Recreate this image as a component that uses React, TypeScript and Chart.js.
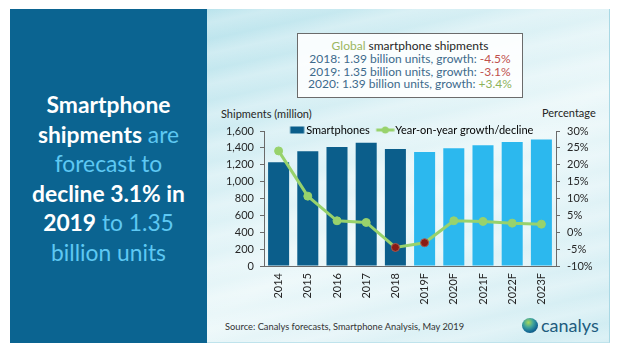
import React, { useEffect, useRef } from 'react';
import { Chart, registerables } from 'chart.js';

Chart.register(...registerables);

const categories = ['2014', '2015', '2016', '2017', '2018', '2019F', '2020F', '2021F', '2022F', '2023F'];
const shipments = [1230, 1360, 1410, 1460, 1388, 1350, 1395, 1430, 1470, 1500];
const growth = [24.1, 10.7, 3.4, 2.9, -4.5, -3.1, 3.4, 3.2, 2.7, 2.4];
const isForecast = [false, false, false, false, false, true, true, true, true, true];
const isDecline = [false, false, false, false, true, true, false, false, false, false];
const seriesNames = ['Smartphones', 'Year-on-year growth/decline'];
const headline = ['2018: 1.39 billion units, growth: ', '2019: 1.35 billion units, growth: ', '2020: 1.39 billion units, growth: '];
const headlineGrowth = ['-4.5%', '-3.1%', '+3.4%'];

const FONT = 'Lato, "Noto Sans", sans-serif';
const DARK_BAR = '#0B5E8B';
const LIGHT_BAR = '#2CB8EE';
const LINE_GREEN = '#98D26C';
const DECLINE_RED = '#8A1A14';
const TEXT = '#262626';
const AXIS = '#6a6a6a';

function legendIcon(kind: 'bar' | 'line'): HTMLCanvasElement {
  const c = document.createElement('canvas');
  c.width = 24;
  c.height = 8;
  const ctx = c.getContext('2d')!;
  if (kind === 'bar') {
    ctx.fillStyle = DARK_BAR;
    ctx.fillRect(8.5, 0.5, 14, 7);
  } else {
    ctx.strokeStyle = LINE_GREEN;
    ctx.lineWidth = 3;
    ctx.beginPath();
    ctx.moveTo(5.5, 4);
    ctx.lineTo(23.5, 4);
    ctx.stroke();
    ctx.fillStyle = LINE_GREEN;
    ctx.beginPath();
    ctx.arc(14.5, 4, 3.5, 0, Math.PI * 2);
    ctx.fill();
  }
  return c;
}

// move the library's legend down so that it sits on the top edge of the plot, as in the original
const legendNudge = {
  id: 'legendNudge',
  afterLayout(chart: any) {
    const lg = chart.legend;
    if (lg) {
      lg.top += 14.5;
      lg.bottom += 14.5;
    }
  },
};

function ChartCanvas() {
  const ref = useRef<HTMLCanvasElement | null>(null);
  useEffect(() => {
    if (!ref.current) return;
    const barIcon = legendIcon('bar');
    const lineIcon = legendIcon('line');
    const chart = new Chart(ref.current, {
      type: 'bar',
      data: {
        labels: categories,
        datasets: [
          {
            type: 'bar',
            label: seriesNames[0],
            data: shipments,
            backgroundColor: isForecast.map((f) => (f ? LIGHT_BAR : DARK_BAR)),
            yAxisID: 'y',
            order: 2,
            barPercentage: 0.72,
            categoryPercentage: 1,
          },
          {
            type: 'line',
            label: seriesNames[1],
            data: growth,
            borderColor: LINE_GREEN,
            backgroundColor: LINE_GREEN,
            borderWidth: 3,
            tension: 0,
            pointRadius: 4,
            pointBorderWidth: 1,
            pointBackgroundColor: isDecline.map((d) => (d ? DECLINE_RED : LINE_GREEN)),
            pointBorderColor: isDecline.map((d) => (d ? '#a85a50' : LINE_GREEN)),
            yAxisID: 'y1',
            order: 1,
          },
        ],
      },
      options: {
        animation: false,
        responsive: false,
        maintainAspectRatio: false,
        layout: { padding: { top: 9, left: 0, right: 0, bottom: 0 } },
        plugins: {
          tooltip: { enabled: false },
          legend: {
            position: 'top',
            align: 'center',
            fullSize: false,
            labels: {
              usePointStyle: true,
              pointStyleWidth: 14,
              boxHeight: 7,
              padding: 6,
              color: TEXT,
              font: { family: FONT, size: 11 },
              generateLabels: () => [
                { text: seriesNames[0], pointStyle: barIcon, fillStyle: DARK_BAR, strokeStyle: DARK_BAR, lineWidth: 0, hidden: false, datasetIndex: 0 },
                { text: seriesNames[1], pointStyle: lineIcon, fillStyle: LINE_GREEN, strokeStyle: LINE_GREEN, lineWidth: 0, hidden: false, datasetIndex: 1 },
              ],
            },
          },
        },
        scales: {
          x: {
            offset: true,
            grid: { display: false, drawTicks: false },
            border: { display: true, color: AXIS, width: 1 },
            ticks: {
              minRotation: 90,
              maxRotation: 90,
              padding: 7,
              color: TEXT,
              font: { family: FONT, size: 11 },
            },
            afterFit: (s: any) => {
              s.height = 44;
            },
          },
          y: {
            position: 'left',
            min: 0,
            max: 1600,
            grid: { display: true, drawOnChartArea: false, drawTicks: true, tickLength: 4, color: AXIS },
            border: { display: true, color: AXIS, width: 1 },
            ticks: {
              stepSize: 200,
              padding: 6,
              color: TEXT,
              font: { family: FONT, size: 11 },
              callback: (v: any) => Number(v).toLocaleString('en-US'),
            },
            afterFit: (s: any) => {
              s.width = 57;
            },
          },
          y1: {
            position: 'right',
            min: -10,
            max: 30,
            grid: { display: true, drawOnChartArea: false, drawTicks: true, tickLength: 4, color: AXIS },
            border: { display: true, color: AXIS, width: 1 },
            ticks: {
              stepSize: 5,
              padding: 7,
              color: TEXT,
              font: { family: FONT, size: 11 },
              callback: (v: any) => v + '%',
            },
            afterFit: (s: any) => {
              s.width = 51;
            },
          },
        },
      },
      plugins: [legendNudge],
    } as any);
    return () => chart.destroy();
  }, []);
  return <canvas ref={ref} width={400} height={215} style={{ position: 'absolute', left: 207, top: 95, width: 400, height: 215 }} />;
}

export default function App() {
  const white = '#ffffff';
  const light = '#5EC8F3';
  return (
    <div style={{ position: 'absolute', left: 0, top: 0, width: 621, height: 357, background: '#fff', overflow: 'hidden', fontFamily: FONT }}>
      {/* left panel */}
      <div style={{ position: 'absolute', left: 10, top: 9, width: 197, height: 334, background: '#0B6491' }} />
      <div
        style={{
          position: 'absolute',
          left: 10,
          top: 90,
          width: 197,
          textAlign: 'center',
          fontSize: 22.8,
          lineHeight: '29.6px',
          color: light,
        }}
      >
        <div><b style={{ color: white }}>Smartphone</b></div>
        <div><b style={{ color: white }}>shipments</b> are</div>
        <div>forecast to</div>
        <div><b style={{ color: white }}>decline 3.1% in</b></div>
        <div><b style={{ color: white }}>2019</b> to 1.35</div>
        <div>billion units</div>
      </div>
      {/* right panel */}
      <div
        style={{
          position: 'absolute',
          left: 207,
          top: 9,
          width: 402,
          height: 333,
          borderRight: '1px solid #a9d8e4',
          borderBottom: '1px solid #bfe3ec',
          background:
            'repeating-linear-gradient(168deg, rgba(255,255,255,0) 0px, rgba(255,255,255,0.25) 14px, rgba(255,255,255,0) 30px), linear-gradient(150deg, #b9e3ec 0%, #d6eff4 30%, #eaf7f9 55%, #dff2f6 75%, #cfecf2 100%)',
        }}
      />
      {/* headline box */}
      <div
        style={{
          position: 'absolute',
          left: 297,
          top: 33,
          width: 224,
          height: 57,
          border: '1px solid #6b6b6b',
          background: 'rgba(255,255,255,0.88)',
          textAlign: 'center',
          fontSize: 12,
          lineHeight: '12.8px',
          paddingTop: 6,
          boxSizing: 'content-box',
          color: '#3D6A8C',
        }}
      >
        <div>
          <span style={{ color: '#9BB661' }}>Global</span> <span style={{ color: TEXT }}>smartphone shipments</span>
        </div>
        {headline.map((h, i) => (
          <div key={i}>
            {h}
            <span style={{ color: headlineGrowth[i].startsWith('+') ? '#8DB25A' : '#C0504D' }}>{headlineGrowth[i]}</span>
          </div>
        ))}
      </div>
      {/* axis titles */}
      <div style={{ position: 'absolute', left: 221, top: 107, fontSize: 11, lineHeight: '14px', color: TEXT, whiteSpace: 'nowrap' }}>Shipments (million)</div>
      <div style={{ position: 'absolute', left: 542, top: 106, fontSize: 11, lineHeight: '14px', color: TEXT, whiteSpace: 'nowrap' }}>Percentage</div>
      <ChartCanvas />
      {/* source */}
      <div style={{ position: 'absolute', left: 225, top: 321, fontSize: 9.3, lineHeight: '12px', color: '#333', whiteSpace: 'nowrap' }}>
        Source: Canalys forecasts, Smartphone Analysis, May 2019
      </div>
      {/* logo */}
      <div
        style={{
          position: 'absolute',
          left: 522,
          top: 318,
          width: 16,
          height: 15,
          borderRadius: '50%',
          background: 'radial-gradient(circle at 40% 30%, #a6d85c 0%, #3ea39c 35%, #146a96 65%, #0b3550 100%)',
        }}
      />
      <div style={{ position: 'absolute', left: 541, top: 314, fontSize: 18, lineHeight: '22px', color: '#1E5C7E', whiteSpace: 'nowrap' }}>canalys</div>
    </div>
  );
}
